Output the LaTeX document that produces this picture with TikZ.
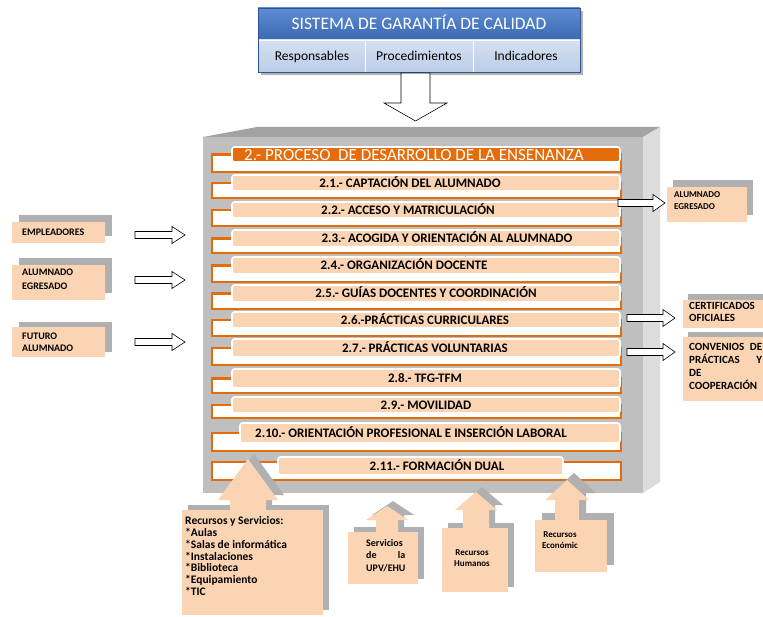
\documentclass[tikz,border=0pt]{standalone}
\usepackage{fontspec}
\setmainfont{Carlito}
\definecolor{peach}{HTML}{FBD4B4}
\definecolor{orng}{HTML}{E46C0A}
\definecolor{boxfront}{HTML}{BFBFBF}
\definecolor{boxtop}{HTML}{A3A3A3}
\definecolor{boxside}{HTML}{DCDCDC}
\definecolor{shad}{HTML}{B0B0B0}
\definecolor{hdrtop}{HTML}{5F8DD3}
\definecolor{hdrbot}{HTML}{3B69B2}
\definecolor{subtop}{HTML}{D5E0F1}
\definecolor{subbot}{HTML}{BCCDE8}
\tikzset{
  backrect/.style={draw=orng, line width=2.4pt, fill=white},
  rowbox/.style={draw=white, line width=1.6pt, fill=peach, rounded corners=2.5pt},
  hdrbox/.style={draw=white, line width=1.6pt, fill=orng, rounded corners=2.5pt},
  rowtext/.style={font=\fontsize{13}{15}\selectfont\bfseries, inner sep=0pt, anchor=base},
  blockarr/.style={draw=black, line width=0.6pt, fill=white},
  shadowshape/.style={fill=shad},
  peachshape/.style={fill=peach},
  boxtext/.style={inner sep=0pt, anchor=north west, align=left},
}
\newcommand\procrow[7]{%
  \draw[backrect] (212,{#2+(#3-#2)/2}) rectangle (621,#4);
  \draw[rowbox] (#5,#2) rectangle (620,#3);
  \node[rowtext] (#1) at (#6,{(#2+#3)/2+4.2}) {#7};
}
\newcommand\rightarr[4]{%
  \draw[blockarr] (#1,{#4-3.5}) -- (#2,{#4-3.5}) -- (#2,{#4-8.5}) -- (#3,#4)
    -- (#2,{#4+8.5}) -- (#2,{#4+3.5}) -- (#1,{#4+3.5}) -- cycle;
}
\newcommand\uparr[7]{%
  \fill[#7] (#1,#2) -- ({#1+#3},#4) -- ({#1+#5},#4) -- ({#1+#5},#6)
    -- ({#1-#5},#6) -- ({#1-#5},#4) -- ({#1-#3},#4) -- cycle;
}
\begin{document}
\begin{tikzpicture}[x=1pt,y=-1pt]
\useasboundingbox (0,0) rectangle (763,617);
\fill[white] (0,0) rectangle (763,617);

% ---- top quality system box
\fill[black!30] (261,11) rectangle (583,75);
\shade[top color=hdrtop, bottom color=hdrbot] (258,8) rectangle (580,40);
\shade[top color=subtop, bottom color=subbot] (258,40) rectangle (580,72);
\draw[white, line width=0.7pt] (258,40) -- (580,40) (365,40) -- (365,72) (473,40) -- (473,72);
\draw[hdrbot!80!black, line width=0.4pt] (258,8) rectangle (580,72);
\node[inner sep=0pt, anchor=base, text=white, font=\fontsize{17.5}{20}\selectfont] (sgc) at (419,30) {SISTEMA DE GARANTÍA DE CALIDAD};
\node[inner sep=0pt, anchor=base, font=\fontsize{13.5}{16}\selectfont] (resp) at (312,60.5) {Responsables};
\node[inner sep=0pt, anchor=base, font=\fontsize{13.5}{16}\selectfont] (proc) at (419,60.5) {Procedimientos};
\node[inner sep=0pt, anchor=base, font=\fontsize{13.5}{16}\selectfont] (ind) at (526,60.5) {Indicadores};

% down arrow
\draw[blockarr] (401,73) -- (430,73) -- (430,103) -- (447,103) -- (415.5,121) -- (384,103) -- (401,103) -- cycle;

% ---- big 3D box
\fill[boxtop] (203,137) -- (257,127) -- (660,127) -- (643,137) -- cycle;
\fill[boxside] (643,137) -- (660,127) -- (660,482) -- (643,493) -- cycle;
\fill[boxfront] (203,137) rectangle (643,493);

% header row
\draw[backrect] (212,154.5) rectangle (621,172);
\draw[hdrbox] (232,147) rectangle (620,162);
\node[inner sep=0pt, anchor=base, text=white, font=\fontsize{17}{20}\selectfont] (proceso) at (414,160.3) {2.- PROCESO\ \ DE DESARROLLO DE LA ENSENANZA};

\procrow{r1}{175}{191}{198}{232}{410}{2.1.- CAPTACIÓN DEL ALUMNADO}
\procrow{r2}{202}{218}{226}{232}{408}{2.2.- ACCESO Y MATRICULACIÓN}
\procrow{r3}{230}{247}{253}{232}{447}{2.3.- ACOGIDA Y ORIENTACIÓN AL ALUMNADO}
\procrow{r4}{257}{274}{282}{232}{404}{2.4.- ORGANIZACIÓN DOCENTE}
\procrow{r5}{285}{302}{309}{232}{426}{2.5.- GUÍAS DOCENTES Y COORDINACIÓN}
\procrow{r6}{312}{328}{336}{232}{425}{2.6.-PRÁCTICAS CURRICULARES}
\procrow{r7}{339}{357}{365}{232}{425}{2.7.- PRÁCTICAS VOLUNTARIAS}
\procrow{r8}{369}{388}{393}{232}{425}{2.8.- TFG-TFM}
\procrow{r9}{397}{413}{418}{232}{426}{2.9.- MOVILIDAD}
\procrow{r10}{423}{443}{451}{240}{411}{2.10.- ORIENTACIÓN PROFESIONAL E INSERCIÓN LABORAL}
% row 2.11
\draw[backrect] (212,462) rectangle (621,480);
\draw[rowbox] (278,457) rectangle (563,475);
\node[rowtext] (r11) at (437,470.2) {2.11.- FORMACIÓN DUAL};

% ---- left input boxes
\fill[shadowshape] (19,215) rectangle (112,236);
\fill[peachshape] (12,222) rectangle (105,243);
\node[inner sep=0pt, anchor=base west, font=\fontsize{10}{13}\selectfont\bfseries] (empl) at (22,235.3) {EMPLEADORES};

\fill[shadowshape] (19,258) rectangle (112,293);
\fill[peachshape] (12,265) rectangle (105,300);
\node[boxtext, font=\fontsize{10}{14}\selectfont\bfseries] (alegl) at (22,269) {ALUMNADO\\EGRESADO};

\fill[shadowshape] (19,322) rectangle (112,352);
\fill[peachshape] (12,327) rectangle (105,357);
\node[boxtext, font=\fontsize{10}{12.5}\selectfont\bfseries] (futuro) at (22,332.5) {FUTURO\\ALUMNADO};

\rightarr{135}{172}{185}{235}
\rightarr{135}{172}{185}{280}
\rightarr{135}{172}{185}{342}

% ---- right output boxes
\fill[shadowshape] (673,180) rectangle (753,215);
\fill[peachshape] (667,187) rectangle (747,222);
\node[boxtext, font=\fontsize{9}{12}\selectfont\bfseries] (alegr) at (674,191) {ALUMNADO\\EGRESADO};

\fill[shadowshape] (688,294) rectangle (775,321);
\fill[peachshape] (683,300) rectangle (775,328);
\node[boxtext, font=\fontsize{11}{12}\selectfont\bfseries] (cert) at (689,302.5) {CERTIFICADOS\\OFICIALES};

\fill[shadowshape] (688,332) rectangle (775,396);
\fill[peachshape] (683,337) rectangle (775,401);
\node[boxtext, text width=73pt, font=\fontsize{11}{13}\selectfont\bfseries] (conv) at (689,343.5) {CONVENIOS\hfill DE\\PRÁCTICAS\hfill Y\\DE\\COOPERACIÓN};

\rightarr{618}{653}{665}{203}
\rightarr{627}{663}{675}{318}
\rightarr{627}{663}{675}{352}

% ---- bottom resource boxes
\begin{scope}[shift={(6,-5)}]
  \uparr{248}{459}{30}{500}{18}{512}{shadowshape}
  \fill[shadowshape] (182,510) rectangle (323,615);
  \uparr{387}{506}{21}{520}{11}{533}{shadowshape}
  \fill[shadowshape] (348,532) rectangle (418,584);
  \uparr{476}{492}{21}{510}{13}{529}{shadowshape}
  \fill[shadowshape] (442,528) rectangle (508,592);
\end{scope}
\begin{scope}[shift={(7,-7)}]
  \uparr{567}{480}{22}{500}{12}{521}{shadowshape}
  \fill[shadowshape] (535,520) rectangle (607,572);
\end{scope}

\uparr{248}{459}{30}{500}{18}{511}{peachshape}
\fill[peachshape] (182,510) rectangle (323,615);
\node[boxtext, font=\fontsize{11.5}{11.8}\selectfont\bfseries] (recserv) at (185,516.5) {Recursos y Servicios:\\*Aulas\\*Salas de informática\\*Instalaciones\\*Biblioteca\\*Equipamiento\\*TIC};

\uparr{387}{506}{21}{520}{11}{533}{peachshape}
\fill[peachshape] (348,532) rectangle (418,584);
\node[boxtext, text width=39pt, font=\fontsize{10}{12.5}\selectfont\bfseries] (servupv) at (366,539) {Servicios\\de\hfill la\\UPV/EHU};

\uparr{476}{492}{21}{510}{13}{529}{peachshape}
\fill[peachshape] (442,528) rectangle (508,592);
\node[inner sep=0pt, anchor=north, align=center, font=\fontsize{9}{11}\selectfont\bfseries] (rechum) at (472,549.5) {Recursos\\Humanos};

\uparr{567}{480}{22}{500}{12}{521}{peachshape}
\fill[peachshape] (535,520) rectangle (607,572);
\node[inner sep=0pt, anchor=north, align=center, font=\fontsize{9}{11}\selectfont\bfseries] (receco) at (560,531.5) {Recursos\\Económic};
\end{tikzpicture}
\end{document}
